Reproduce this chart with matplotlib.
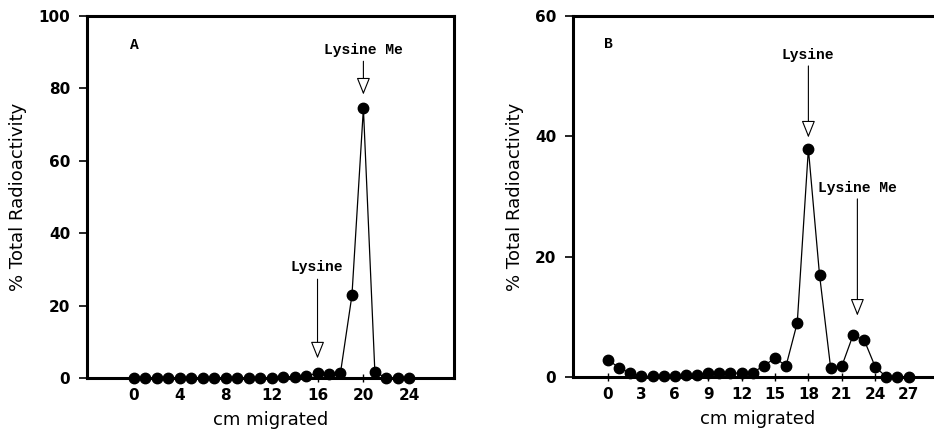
import matplotlib
matplotlib.use("Agg")
import matplotlib.pyplot as plt

# Panel A data
cm_a = list(range(0, 25))
pct_a = [0, 0, 0, 0, 0, 0, 0, 0, 0, 0, 0, 0, 0, 0.3, 0.4, 0.5, 1.4, 1.0, 1.4,
         22.8, 74.5, 1.7, 0, 0, 0]
xticks_a = [0, 4, 8, 12, 16, 20, 24]
yticks_a = [0, 20, 40, 60, 80, 100]

# Panel B data
cm_b = list(range(0, 28))
pct_b = [2.9, 1.5, 0.7, 0.1, 0.1, 0.1, 0.1, 0.3, 0.4, 0.7, 0.7, 0.7, 0.6, 0.7,
         1.9, 3.1, 1.9, 9.0, 37.9, 17.0, 1.5, 1.8, 6.9, 6.2, 1.7, 0, 0, 0]
xticks_b = [0, 3, 6, 9, 12, 15, 18, 21, 24, 27]
yticks_b = [0, 20, 40, 60]

W, H = 934, 432
fig = plt.figure(figsize=(W / 100, H / 100), dpi=100)

ax_a = fig.add_axes([87 / W, 1 - 378 / H, (454 - 87) / W, (378 - 16) / H])
ax_b = fig.add_axes([573 / W, 1 - 377 / H, (942 - 573) / W, (377 - 16) / H])

label_font = dict(family="DejaVu Sans", size=13)
ann_font = dict(family="Liberation Mono", size=10.5, weight="bold")

def style(ax, xlim, ylim, xticks, yticks):
    ax.set_xlim(*xlim)
    ax.set_ylim(*ylim)
    ax.set_xticks(xticks)
    ax.set_yticks(yticks)
    for s in ax.spines.values():
        s.set_linewidth(2.2)
    ax.tick_params(axis="y", direction="out", length=6, width=1.2, pad=6)
    ax.tick_params(axis="x", direction="inout", length=6, width=1.0, pad=4)
    for lab in ax.get_xticklabels() + ax.get_yticklabels():
        lab.set_fontweight("bold")
        lab.set_fontsize(11)
        lab.set_family("DejaVu Sans")
    ax.set_xlabel("cm migrated", labelpad=6, **label_font)
    ax.set_ylabel("% Total Radioactivity", labelpad=8, **label_font)

def arrow(ax, x, y0, y1):
    ax.annotate("", xy=(x, y1), xytext=(x, y0),
                arrowprops=dict(arrowstyle="-|>,head_length=0.75,head_width=0.3",
                                fc="white", ec="black",
                                lw=0.8, mutation_scale=14, shrinkA=0, shrinkB=0))

# Panel A
ax_a.plot(cm_a, pct_a, color="black", lw=0.9, marker="o", ms=7.5,
          mfc="black", mec="black", clip_on=False, zorder=3)
style(ax_a, (-4.1, 27.9), (0, 100), xticks_a, yticks_a)
ax_a.text(0, 92, "A", ha="center", va="center", **ann_font)
ax_a.text(20, 90.5, "Lysine Me", ha="center", va="center", **ann_font)
arrow(ax_a, 20, 87.5, 78.3)
ax_a.text(15.9, 30.7, "Lysine", ha="center", va="center", **ann_font)
arrow(ax_a, 16, 27.3, 5.4)

# Panel B
ax_b.plot(cm_b, pct_b, color="black", lw=0.9, marker="o", ms=7.5,
          mfc="black", mec="black", clip_on=False, zorder=3)
style(ax_b, (-3.14, 30.0), (0, 60), xticks_b, yticks_b)
ax_b.text(0, 55.3, "B", ha="center", va="center", **ann_font)
ax_b.text(17.9, 53.5, "Lysine", ha="center", va="center", **ann_font)
arrow(ax_b, 18, 51.7, 39.8)
ax_b.text(22.4, 31.4, "Lysine Me", ha="center", va="center", **ann_font)
arrow(ax_b, 22.4, 29.6, 10.2)

fig.savefig("out.png", dpi=100)
